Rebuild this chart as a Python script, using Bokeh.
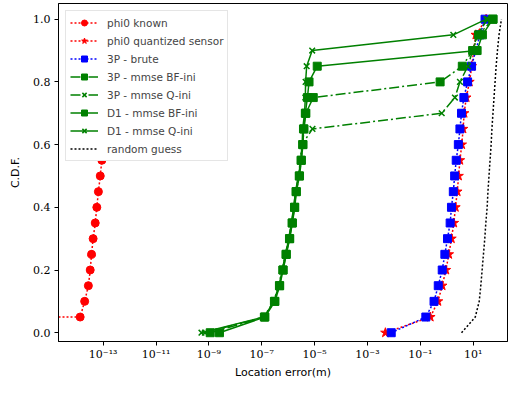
import numpy as np
from bokeh.plotting import figure
from bokeh.models import Range1d, FixedTicker, CustomJSTickFormatter
from bokeh.embed import file_html
from bokeh.resources import INLINE

# C.D.F. levels
cdf = [0.00, 0.05, 0.10, 0.15, 0.20, 0.25, 0.30, 0.35, 0.40, 0.45, 0.50,
       0.55, 0.60, 0.65, 0.70, 0.75, 0.80, 0.85, 0.90, 0.95, 1.00]

# log10 of location error (m); None means zero error
phi0_known = [None, -13.87, -13.70, -13.56, -13.49, -13.44, -13.38, -13.30, -13.24, -13.18, -13.11,
              -13.05, -13.00, -12.95, -12.90, -12.84, -12.78, -12.70, -12.60, -12.48, -12.30]
phi0_quant = [-2.32, -0.62, -0.33, -0.17, -0.03, 0.08, 0.18, 0.27, 0.33, 0.40, 0.45,
              0.50, 0.57, 0.62, 0.66, 0.74, 0.86, 0.95, 1.02, 1.10, 1.49]
brute_3p = [-2.10, -0.79, -0.48, -0.32, -0.17, -0.07, 0.03, 0.13, 0.18, 0.25, 0.30,
            0.36, 0.44, 0.50, 0.56, 0.65, 0.79, 0.94, 1.10, 1.26, 1.45]
mmse_3p_bf = [-8.95, -6.90, -6.52, -6.33, -6.20, -6.08, -5.95, -5.85, -5.76, -5.70, -5.58,
              -5.51, -5.45, -5.40, -5.33, -5.05, -0.25, 0.59, 0.98, 1.20, 1.75]
mmse_3p_q = [-9.15, -6.92, -6.55, -6.36, -6.23, -6.10, -5.98, -5.88, -5.79, -5.72, -5.61,
             -5.54, -5.48, -5.08, -0.19, 0.31, 0.50, 0.80, 0.98, 1.15, 1.55]
mmse_d1_bf = [-8.60, -6.88, -6.50, -6.32, -6.19, -6.07, -5.94, -5.84, -5.75, -5.69, -5.57,
              -5.50, -5.44, -5.42, -5.35, -5.27, -5.21, -4.90, 1.15, 1.35, 1.75]
mmse_d1_q = [-9.28, -6.91, -6.54, -6.35, -6.22, -6.11, -5.97, -5.87, -5.78, -5.73, -5.60,
             -5.53, -5.47, -5.45, -5.38, -5.35, -5.34, -5.30, -5.09, 0.25, 1.50]
random_guess = [0.56, 1.08, 1.23, 1.29, 1.34, 1.39, 1.44, 1.48, 1.53, 1.56, 1.60,
                1.64, 1.68, 1.71, 1.75, 1.79, 1.83, 1.87, 1.92, 1.98, 2.07]

x_ticks = [1e-13, 1e-11, 1e-9, 1e-7, 1e-5, 1e-3, 1e-1, 1e1]
y_ticks = [0.0, 0.2, 0.4, 0.6, 0.8, 1.0]


def to_err(logs):
    # zero error is clipped to a tiny positive value on the log axis
    return [1e-300 if v is None else 10.0 ** v for v in logs]


p = figure(width=508, height=381, x_axis_type="log",
           x_range=Range1d(10 ** -14.69, 10 ** 2.30), y_range=Range1d(-0.028, 1.05),
           output_backend="svg", toolbar_location=None,
           min_border_left=58, min_border_right=1, min_border_top=3, min_border_bottom=36)

RED, BLUE, GREEN = "#ff0000", "#0000ff", "#008000"
DOT, DASHDOT = "2 2", "10 3 2 3"

series = [
    ("phi0 known", phi0_known, RED, DOT, "circle", 8),
    ("phi0 quantized sensor", phi0_quant, RED, DOT, "star", 10),
    ("3P - brute", brute_3p, BLUE, DOT, "square", 8),
    ("3P - mmse BF-ini", mmse_3p_bf, GREEN, DASHDOT, "square", 8),
    ("3P - mmse Q-ini", mmse_3p_q, GREEN, DASHDOT, "x", 8),
    ("D1 - mmse BF-ini", mmse_d1_bf, GREEN, "solid", "square", 8),
    ("D1 - mmse Q-ini", mmse_d1_q, GREEN, "solid", "x", 8),
]

for label, logs, color, dash, marker, size in series:
    xs = to_err(logs)
    p.line(xs, cdf, line_color=color, line_width=1.5, line_dash=dash, legend_label=label)
    if marker == "x":
        p.scatter(xs, cdf, marker="x", size=size, line_color=color, line_width=1.5,
                  legend_label=label)
    else:
        p.scatter(xs, cdf, marker=marker, size=size, fill_color=color, line_color=color,
                  line_width=1, legend_label=label)

p.line(to_err(random_guess), cdf, line_color="black", line_width=1.5, line_dash=DOT,
       legend_label="random guess")

# axes
p.xaxis.ticker = FixedTicker(ticks=x_ticks, minor_ticks=[])
p.xaxis.formatter = CustomJSTickFormatter(code="""
const sup = {'-':'\u207b','0':'\u2070','1':'\u00b9','2':'\u00b2','3':'\u00b3','4':'\u2074',
             '5':'\u2075','6':'\u2076','7':'\u2077','8':'\u2078','9':'\u2079'};
const e = Math.round(Math.log10(tick));
return '10' + String(e).split('').map(c => sup[c]).join('');
""")
p.yaxis.ticker = FixedTicker(ticks=y_ticks, minor_ticks=[])
p.yaxis.formatter = CustomJSTickFormatter(code="return tick.toFixed(1);")

for ax in (p.xaxis, p.yaxis):
    ax.major_tick_out = 4
    ax.major_tick_in = 0
    ax.minor_tick_out = 0
    ax.minor_tick_in = 0
    ax.axis_line_color = "black"
    ax.major_tick_line_color = "black"
    ax.major_label_text_font = "DejaVu Serif"
    ax.major_label_text_font_size = "11px"
    ax.major_label_text_color = "black"
    ax.axis_label_text_font = "DejaVu Sans"
    ax.axis_label_text_font_size = "11px"
    ax.axis_label_text_font_style = "normal"
    ax.axis_label_text_color = "black"

p.xaxis.axis_label = "Location error(m)"
p.yaxis.axis_label = "C.D.F."
p.xaxis.axis_label_standoff = 2
p.yaxis.axis_label_standoff = 8
p.xaxis.major_label_standoff = 2
p.yaxis.major_label_standoff = 4

p.xgrid.visible = False
p.ygrid.visible = False
p.outline_line_color = "black"
p.outline_line_width = 1
p.background_fill_color = "white"
p.border_fill_color = "white"

lg = p.legend[0]
lg.location = "top_left"
lg.margin = 7
lg.padding = 4
lg.spacing = 3
lg.glyph_width = 28
lg.glyph_height = 15
lg.label_height = 15
lg.label_standoff = 9
lg.label_text_font = "DejaVu Sans"
lg.label_text_font_size = "10.5px"
lg.border_line_color = "#cccccc"
lg.border_line_width = 1
lg.background_fill_alpha = 1.0

open("out.html", "w").write(file_html(p, INLINE))
